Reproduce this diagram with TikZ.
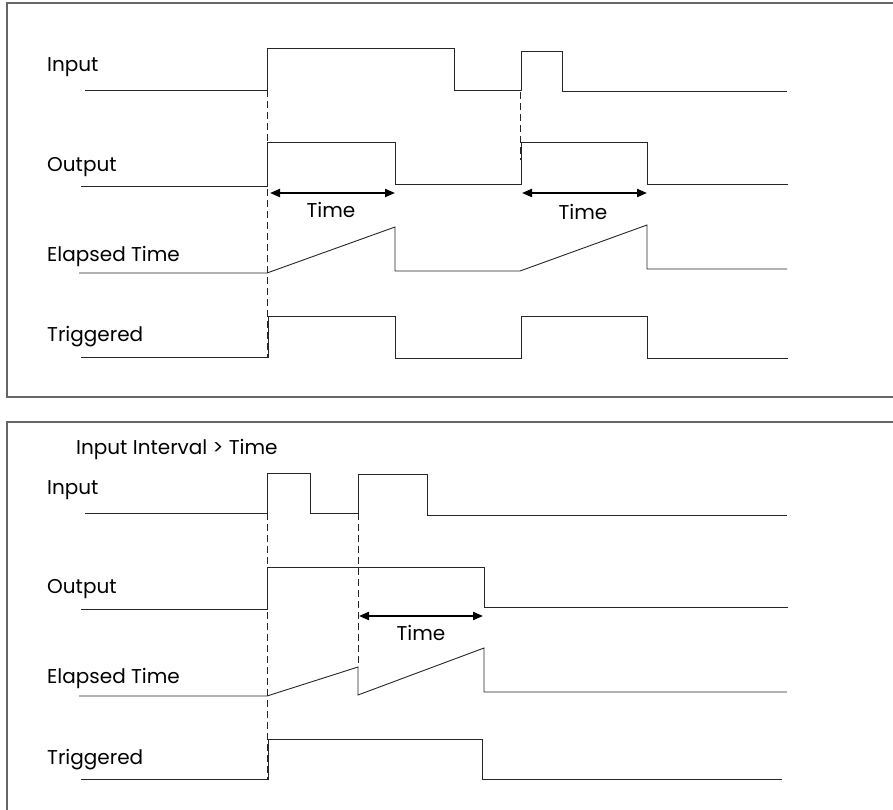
\documentclass[tikz,border=0pt]{standalone}
\usepackage{fontspec}
\setmainfont{Poppins}
\usetikzlibrary{arrows.meta}
\begin{document}
\begin{tikzpicture}[x=1pt,y=-1pt,
  sig/.style={line width=0.9pt,black!85},
  frame/.style={line width=1.2pt,black!60},
  guide/.style={line width=1pt,black!85,dash pattern=on 7pt off 4pt},
  span/.style={line width=2pt,black,{Triangle[length=10pt,width=8pt]}-{Triangle[length=10pt,width=8pt]}},
  lbl/.style={anchor=west,inner sep=0pt,font=\fontsize{20}{24}\selectfont},
  tlbl/.style={inner sep=0pt,font=\fontsize{20}{24}\selectfont}]
\useasboundingbox (0,0) rectangle (893,810);
% frames (open at the right, cropped)
\draw[frame] (893,3) -- (7,3) -- (7,397) -- (893,397);
\draw[frame] (893,422) -- (7,422) -- (7,810);
% ---------- top panel ----------
\node[lbl] (l1) at (47,67) {Input};
\node[lbl] (l2) at (47,167) {Output};
\node[lbl] (l3) at (47,256) {Elapsed Time};
\node[lbl] (l4) at (47,337) {Triggered};
% Input
\draw[sig] (85,90) -- (267,90) -- (267,48) -- (454,48) -- (454,90) -- (521,90) -- (521,51) -- (562,51) -- (562,91) -- (787,91);
% Output
\draw[sig] (81,186) -- (267,186) -- (267,142) -- (395,142) -- (395,184) -- (521,184) -- (521,142) -- (647,142) -- (647,184) -- (788,184);
% Elapsed
\draw[sig] (79,273) -- (267,273) -- (395,227) -- (395,271) -- (520,271) -- (647,225) -- (647,269) -- (787,269);
% Triggered
\draw[sig] (81,357) -- (268,357) -- (268,316) -- (395,316) -- (395,358) -- (521,358) -- (521,316) -- (647,316) -- (647,358) -- (788,358);
% guides
\coordinate (g1a) at (267,90); \coordinate (g1b) at (267,357);
\coordinate (g2a) at (520,92); \coordinate (g2b) at (520,160);
\draw[guide] (g1a) -- (g1b);
\draw[guide] (g2a) -- (g2b);
% spans
\coordinate (a1) at (270,193); \coordinate (b1) at (395,193);
\coordinate (a2) at (522,193); \coordinate (b2) at (647,193);
\draw[span] (a1) -- (b1);
\draw[span] (a2) -- (b2);
\node[tlbl] (t1) at (331,210) {Time};
\node[tlbl] (t2) at (583,212) {Time};
% ---------- bottom panel ----------
\node[lbl] (m0) at (76,449) {Input Interval > Time};
\node[lbl] (m1) at (47,490) {Input};
\node[lbl] (m2) at (47,589) {Output};
\node[lbl] (m3) at (47,678) {Elapsed Time};
\node[lbl] (m4) at (47,760) {Triggered};
% Input
\draw[sig] (85,513) -- (267,513) -- (267,473) -- (310,473) -- (310,513) -- (358,513) -- (358,474) -- (427,474) -- (427,515) -- (787,515);
% Output
\draw[sig] (81,609) -- (267,609) -- (267,567) -- (484,567) -- (484,607) -- (788,607);
% Elapsed
\draw[sig] (79,696) -- (267,696) -- (358,667) -- (358,695) -- (484,648) -- (484,692) -- (787,692);
% Triggered
\draw[sig] (81,779) -- (268,779) -- (268,739) -- (482,739) -- (482,779) -- (782,779);
% guides
\coordinate (g3a) at (267,513); \coordinate (g3b) at (267,779);
\coordinate (g4a) at (358,513); \coordinate (g4b) at (358,667);
\draw[guide] (g3a) -- (g3b);
\draw[guide] (g4a) -- (g4b);
% span
\coordinate (a3) at (359,616); \coordinate (b3) at (483,616);
\draw[span] (a3) -- (b3);
\node[tlbl] (t3) at (421,633) {Time};
\end{tikzpicture}
\end{document}
